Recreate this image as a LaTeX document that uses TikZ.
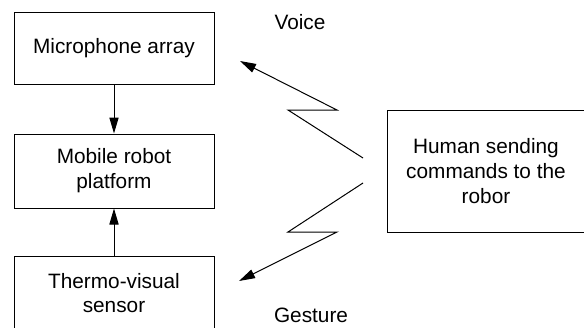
\documentclass[tikz,border=0pt]{standalone}
\usepackage{fontspec}
\setmainfont{Liberation Sans}
\usetikzlibrary{arrows.meta}

\begin{document}
\begin{tikzpicture}[x=0.5pt,y=-0.5pt]

  \useasboundingbox (0,0) rectangle (584,327);

  % node styles
  \tikzstyle{Box}=[
  shape=rectangle,draw,
  line width=0.5pt,
  align=center,
  font=\fontsize{10.4}{12.4}\selectfont,
  minimum width=100pt,
  inner sep=0pt]

  \tikzstyle{Label}=[font=\fontsize{10.4}{12.4}\selectfont,inner sep=0pt]
  \tikzstyle{Arrow}=[line width=0.5pt,-{Triangle[length=8pt,width=4.6pt]}]

  \node[Box,minimum height=36pt] (mic)    at (114, 48) {Microphone array};
  \node[Box,minimum height=37pt] (robot)  at (114,171) {Mobile robot\\platform};
  \node[Box,minimum height=37pt] (sensor) at (114,293) {Thermo-visual\\sensor};
  \node[Box,minimum width=99pt,minimum height=61pt] (human) at (486,171)
    {Human sending\\commands to the\\robor};

  \node[Label] (voice)   at (300, 22) {Voice};
  \node[Label] (gesture) at (311,315) {Gesture};

  \draw[Arrow] (mic) -- (robot);
  \draw[Arrow] (sensor) -- (robot);

  % zigzag signals from the human
  \coordinate (V0) at (363,158);
  \coordinate (V1) at (240, 61);
  \coordinate (G0) at (363,183);
  \coordinate (G1) at (239,281);

  \draw[Arrow] (V0) -- (288,110) -- (337,110) -- (V1);
  \draw[Arrow] (G0) -- (288,232) -- (337,232) -- (G1);

\end{tikzpicture}
\end{document}
